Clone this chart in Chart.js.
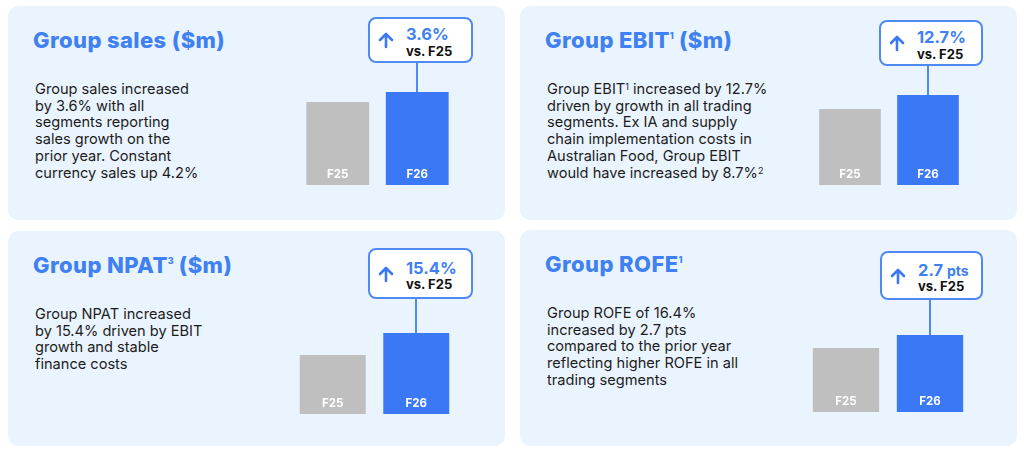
<!DOCTYPE html>
<html>
<head>
<meta charset="utf-8">
<script src="https://cdn.jsdelivr.net/npm/chart.js"></script>
<style>
  html, body { margin: 0; padding: 0; }
  body { width: 1024px; height: 453px; background: #fff; position: relative; overflow: hidden; font-family: Inter, "Noto Sans", sans-serif; }
  .panel { position: absolute; background: #eaf4fe; border-radius: 10px; }
  .title { position: absolute; left: 25px; top: 21px; font-size: 22px; font-weight: 800; color: #3f80f2; white-space: nowrap; letter-spacing: 0.4px; }
  .title sup { font-size: 9px; vertical-align: top; position: relative; top: 3px; margin-left: 0; letter-spacing: 0; }
  .note { position: absolute; left: 27px; top: 75px; font-size: 14.6px; line-height: 16.7px; color: #1c1c1c; white-space: nowrap; }
  .note sup { font-size: 9px; vertical-align: top; position: relative; top: -2px; }
  .callout { position: absolute; box-sizing: border-box; border: 2px solid #4f8af2; border-radius: 8px; background: #fff; }
  .callout svg { position: absolute; left: 7px; top: 50%; margin-top: -9px; }
  .callout .txt { position: absolute; left: 36px; top: calc(50% + 2px); transform: translateY(-50%); line-height: 1.15; white-space: nowrap; }
  .callout .chg { font-size: 16.5px; font-weight: 700; color: #3f80f2; }
  .callout .chg span { font-size: 14px; }
  .callout .vs { font-size: 13px; font-weight: 700; color: #111; }
  canvas { position: absolute; }
</style>
</head>
<body>
<script>
'use strict';

// bar categories and bar heights (relative; the bars are not drawn to a common scale)
var categories = ['F25', 'F26'];
var priorValues = [83, 76, 59, 64];
var currentValues = [93, 90, 81, 77];

var metricTitles = ['Group sales ($m)', 'Group EBIT<sup>1</sup> ($m)', 'Group NPAT<sup>3</sup> ($m)', 'Group ROFE<sup>1</sup>'];
var changeLabels = ['3.6%', '12.7%', '15.4%', '2.7 pts'];
var compareLabel = 'vs. F25';
var noteLines = [
  ['Group sales increased', 'by 3.6% with all', 'segments reporting', 'sales growth on the', 'prior year. Constant', 'currency sales up 4.2%'],
  ['Group EBIT<sup>1</sup> increased by 12.7%', 'driven by growth in all trading', 'segments. Ex IA and supply', 'chain implementation costs in', 'Australian Food, Group EBIT', 'would have increased by 8.7%<sup>2</sup>'],
  ['Group NPAT increased', 'by 15.4% driven by EBIT', 'growth and stable', 'finance costs'],
  ['Group ROFE of 16.4%', 'increased by 2.7 pts', 'compared to the prior year', 'reflecting higher ROFE in all', 'trading segments']
];

(function () {

  // panel boxes, callout boxes and chart boxes: [left, top, width, height]
  var panelBoxes = [[8, 6, 497, 214], [520, 6, 497, 214], [8, 231, 497, 215], [520, 230, 497, 216]];
  var calloutBoxes = [[360, 11, 105, 46], [359, 14, 104, 46], [360, 17, 105, 51], [360, 21, 103, 49]];
  var chartBoxes = [[290, 57, 159, 122], [291, 60, 156, 119], [283, 68, 167, 115], [284, 70, 168, 112]];

  var greyBar = '#bfbfbf';
  var blueBar = '#3b78f5';
  var lineBlue = '#4f8af2';

  var barDecor = {
    id: 'barDecor',
    afterDatasetsDraw: function (chart) {
      var ctx = chart.ctx;
      var bars = chart.getDatasetMeta(0).data;
      ctx.save();
      // connector from the callout down to the F26 bar
      ctx.strokeStyle = lineBlue;
      ctx.lineWidth = 2;
      ctx.beginPath();
      ctx.moveTo(Math.round(bars[1].x), chart.chartArea.top);
      ctx.lineTo(Math.round(bars[1].x), bars[1].y);
      ctx.stroke();
      // category labels inside the bars
      ctx.fillStyle = '#ffffff';
      ctx.font = '700 11.5px Inter, "Noto Sans", sans-serif';
      ctx.textAlign = 'center';
      ctx.textBaseline = 'middle';
      bars.forEach(function (bar, i) {
        ctx.fillText(chart.data.labels[i], bar.x, bar.base - 10);
      });
      ctx.restore();
    }
  };

  function place(el, box) {
    el.style.left = box[0] + 'px';
    el.style.top = box[1] + 'px';
    el.style.width = box[2] + 'px';
    el.style.height = box[3] + 'px';
  }

  function buildPanel(i) {
    var panel = document.createElement('div');
    panel.className = 'panel';
    place(panel, panelBoxes[i]);
    document.body.appendChild(panel);

    var title = document.createElement('div');
    title.className = 'title';
    title.innerHTML = metricTitles[i];
    panel.appendChild(title);

    var note = document.createElement('div');
    note.className = 'note';
    note.innerHTML = noteLines[i].join('<br>');
    panel.appendChild(note);

    // "pts" is set a little smaller than the number
    var chg = changeLabels[i].replace(/ (pts)$/, ' <span>$1</span>');
    var callout = document.createElement('div');
    callout.className = 'callout';
    place(callout, calloutBoxes[i]);
    callout.innerHTML =
      '<svg width="18" height="18" viewBox="0 0 18 18"><path d="M9 16V3M3 9L9 3L15 9" fill="none" stroke="' + blueBar + '" stroke-width="2.6" stroke-linecap="round" stroke-linejoin="round"/></svg>' +
      '<div class="txt"><div class="chg">' + chg + '</div><div class="vs">' + compareLabel + '</div></div>';
    panel.appendChild(callout);

    var box = chartBoxes[i];
    var canvas = document.createElement('canvas');
    canvas.width = box[2];
    canvas.height = box[3];
    canvas.style.left = box[0] + 'px';
    canvas.style.top = box[1] + 'px';
    panel.appendChild(canvas);

    new Chart(canvas, {
      type: 'bar',
      data: {
        labels: categories,
        datasets: [{
          data: [priorValues[i], currentValues[i]],
          backgroundColor: [greyBar, blueBar],
          borderWidth: 0,
          categoryPercentage: 1,
          barPercentage: 0.79
        }]
      },
      options: {
        responsive: false,
        animation: false,
        layout: { padding: 0 },
        plugins: { legend: { display: false }, tooltip: { enabled: false } },
        scales: {
          x: { display: false },
          y: { display: false, min: 0, max: box[3] }
        }
      },
      plugins: [barDecor]
    });
  }

  for (var i = 0; i < panelBoxes.length; i++) {
    buildPanel(i);
  }
})();
</script>
</body>
</html>
